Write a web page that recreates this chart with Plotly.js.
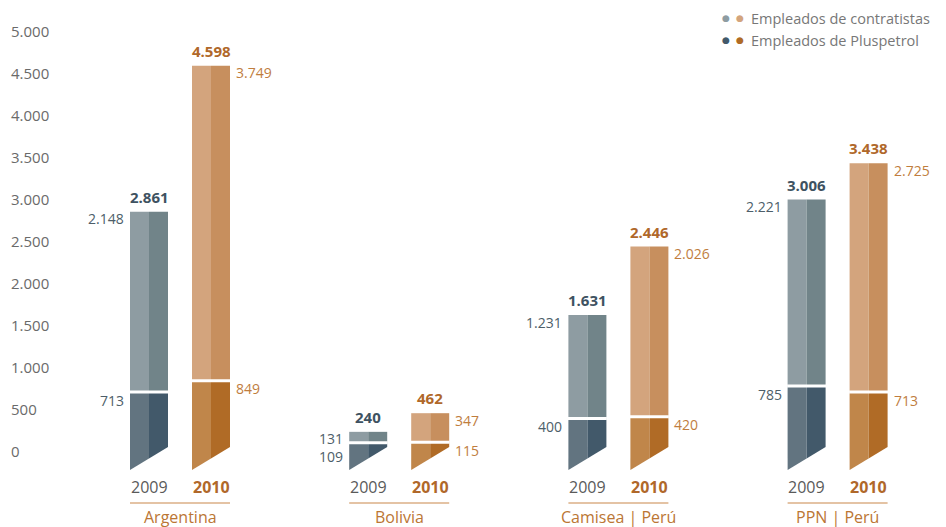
<!DOCTYPE html>
<html><head><meta charset="utf-8">
<script src="https://cdn.plot.ly/plotly-3.0.1.min.js"></script>
<style>html,body{margin:0;padding:0;background:#fff}#chart{width:946px;height:527px}</style>
</head><body><div id="chart"></div>
<script>
// ---- data ----
const groups = ['Argentina', 'Bolivia', 'Camisea | Perú', 'PPN | Perú'];
const years = ['2009', '2010'];
const contratistas2009 = [2148, 131, 1231, 2221];
const pluspetrol2009 = [713, 109, 400, 785];
const contratistas2010 = [3749, 347, 2026, 2725];
const pluspetrol2010 = [849, 115, 420, 713];
const totals2009 = [2861, 240, 1631, 3006];
const totals2010 = [4598, 462, 2446, 3438];
const seriesNames = ['Empleados de contratistas', 'Empleados de Pluspetrol'];
const yTickVals = [0, 500, 1000, 1500, 2000, 2500, 3000, 3500, 4000, 4500, 5000];
const yTickText = ['0', '500', '1.000', '1.500', '2.000', '2.500', '3.000', '3.500', '4.000', '4.500', '5.000'];

// ---- geometry / style ----
const W = 946, H = 527;
const PXU = 0.084, Y0 = 452;          // px per unit, pixel row of zero
const GX = 219.2, G0 = 180;           // px per group, first group centre
const pu = p => (Y0 - p) / PXU;       // pixel row -> y units
const OFF = 31 / GX, HW = 19 / GX;
const SL = -214, SR = 60;             // slanted bottom (units)
const colors = {
  '2009': {cL: '#8e9ca2', cR: '#718489', pL: '#627480', pR: '#42596a', txt: '#4d5e69', bold: '#3e5261', year: '#5a5a5a'},
  '2010': {cL: '#d3a47d', cR: '#c78f5e', pL: '#c0864a', pR: '#b06b26', txt: '#c07d3e', bold: '#b0682a', year: '#b0682a'}
};
const fmt = n => n.toString().replace(/\B(?=(\d{3})+(?!\d))/g, '.');
const FONT = 'Open Sans, sans-serif';

const traces = [], annotations = [], shapes = [];
const poly = (xs, ys, color) => traces.push({
  type: 'scatter', mode: 'lines', x: xs.concat([xs[0]]), y: ys.concat([ys[0]]),
  fill: 'toself', fillcolor: color, line: {width: 0, color: color}, hoverinfo: 'skip', showlegend: false
});

groups.forEach((g, i) => {
  years.forEach((yr, j) => {
    const C = j === 0 ? contratistas2009[i] : contratistas2010[i];
    const P = j === 0 ? pluspetrol2009[i] : pluspetrol2010[i];
    const T = j === 0 ? totals2009[i] : totals2010[i];
    const col = colors[yr];
    const xc = i + (j === 0 ? -OFF : OFF);
    const xl = xc - HW, xr = xc + HW, sM = (SL + SR) / 2;
    // Pluspetrol (bottom, slanted)
    poly([xl, xc, xc, xl], [SL, sM, P, P], col.pL);
    poly([xc, xr, xr, xc], [sM, SR, P, P], col.pR);
    // Contratistas (top)
    poly([xl, xc, xc, xl], [P, P, P + C, P + C], col.cL);
    poly([xc, xr, xr, xc], [P, P, P + C, P + C], col.cR);
    // white divider
    traces.push({type: 'scatter', mode: 'lines', x: [xl - 0.002, xr + 0.002], y: [P, P],
      line: {color: '#ffffff', width: 3}, hoverinfo: 'skip', showlegend: false});
    // labels
    annotations.push({x: xc, y: P + C, yanchor: 'bottom', yshift: 3, showarrow: false,
      text: '<b>' + fmt(T) + '</b>', font: {family: FONT, size: 15, color: col.bold}});
    const side = j === 0 ? {x: xl, xanchor: 'right', xshift: -4} : {x: xr, xanchor: 'left', xshift: 4};
    // label offsets in pixels, keeping both labels apart on short bars
    const topPx = Y0 - (P + C) * PXU, splitPx = Y0 - P * PXU;
    const cShift = 7;
    const pShift = Math.max(8, (topPx + cShift + 18) - splitPx);
    annotations.push(Object.assign({}, side, {y: P + C, yanchor: 'middle', yshift: -cShift, showarrow: false,
      text: fmt(C), font: {family: FONT, size: 14, color: col.txt}}));
    annotations.push(Object.assign({}, side, {y: P, yanchor: 'middle', yshift: -pShift, showarrow: false,
      text: fmt(P), font: {family: FONT, size: 14, color: col.txt}}));
    annotations.push({x: xc, y: pu(487), yanchor: 'middle', showarrow: false,
      text: j === 0 ? yr : '<b>' + yr + '</b>', font: {family: FONT, size: 16, color: col.year}});
  });
  const gl = i - OFF - HW, gr = i + OFF + HW;
  shapes.push({type: 'line', xref: 'x', yref: 'y', x0: gl, x1: gr, y0: pu(503), y1: pu(503),
    line: {color: '#c9874a', width: 1.2}});
  annotations.push({x: i, y: pu(517), yanchor: 'middle', showarrow: false, text: g,
    font: {family: FONT, size: 16, color: '#bb7634'}});
});

// legend
const legDots = [[colors['2009'].cL, colors['2010'].cL], [colors['2009'].pR, colors['2010'].pR]];
seriesNames.forEach((name, k) => {
  const py = 1 - (18 + 22 * k) / H;
  legDots[k].forEach((c, m) => annotations.push({xref: 'paper', yref: 'paper', x: (726 + 14 * m) / W, y: py,
    xanchor: 'center', yanchor: 'middle', showarrow: false, text: '●', font: {family: 'DejaVu Sans', size: 9, color: c}}));
  annotations.push({xref: 'paper', yref: 'paper', x: 749 / W, y: py, xanchor: 'left', yanchor: 'middle',
    showarrow: false, text: name, font: {family: FONT, size: 14.5, color: '#777777'}});
});

const layout = {
  width: W, height: H, margin: {l: 0, r: 0, t: 0, b: 0},
  paper_bgcolor: '#ffffff', plot_bgcolor: '#ffffff', showlegend: false,
  xaxis: {range: [-G0 / GX, (W - G0) / GX], visible: false, fixedrange: true},
  yaxis: {range: [pu(H), pu(0)], tickvals: yTickVals, ticktext: yTickText,
    ticklabelposition: 'inside', ticklabelstandoff: 8, ticks: '', showgrid: false, zeroline: false, showline: false,
    tickfont: {family: FONT, size: 15, color: '#6a6a6a'}, fixedrange: true},
  annotations: annotations, shapes: shapes, hovermode: false
};
Plotly.newPlot('chart', traces, layout, {staticPlot: true, displayModeBar: false});
</script></body></html>
